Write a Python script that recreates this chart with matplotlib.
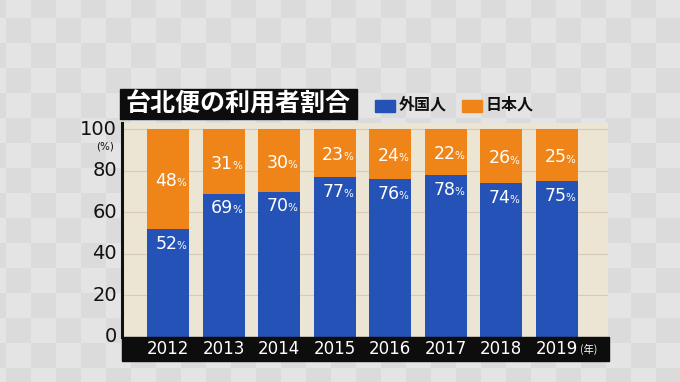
import numpy as np
import matplotlib
matplotlib.use('Agg')
import matplotlib.pyplot as plt
from matplotlib.patches import Rectangle

plt.rcParams['font.family'] = ['Noto Sans CJK JP', 'DejaVu Sans']
NUMFONT = ['DejaVu Sans']

# データ
years = ['2012', '2013', '2014', '2015', '2016', '2017', '2018', '2019']
gaikokujin = [52, 69, 70, 77, 76, 78, 74, 75]
nihonjin = [48, 31, 30, 23, 24, 22, 26, 25]
yticks = [0, 20, 40, 60, 80, 100]

W, H = 680, 382
fig = plt.figure(figsize=(W / 100, H / 100), dpi=100)

# 背景の市松模様
bg = fig.add_axes([0, 0, 1, 1], zorder=-10)
yy, xx = np.mgrid[0:H, 0:W]
checker = (((xx - 6) // 25) + ((yy + 7) // 25)) % 2
img = np.where(checker[..., None] == 0, np.array([0.895, 0.895, 0.895]), np.array([0.862, 0.862, 0.862]))
bg.imshow(img, extent=(0, W, H, 0), aspect='auto', interpolation='nearest')
bg.set_xlim(0, W)
bg.set_ylim(H, 0)
bg.axis('off')

def fx(px):
    return px / W

def fy(py):
    return 1 - py / H

# グラフ本体
ax = fig.add_axes([fx(122), fy(337), fx(608) - fx(122), fy(123) - fy(337)])
ax.set_facecolor('#ece5d3')
x = np.arange(len(years))
blue = '#2452b6'
orange = '#ef8419'
ax.bar(x, gaikokujin, width=0.76, color=blue, zorder=3)
ax.bar(x, nihonjin, width=0.76, bottom=gaikokujin, color=orange, zorder=3)
ax.set_xlim(-0.83, 7.92)
ax.set_ylim(0, 103.1)
for t in yticks[1:]:
    ax.axhline(t, color='#d6ccb6', lw=0.8, zorder=1)
ax.set_xticks([])
ax.set_yticks([])
for s in ['top', 'right', 'bottom']:
    ax.spines[s].set_visible(False)
ax.spines['left'].set_linewidth(2.2)
ax.spines['left'].set_color('#111111')

# 数値ラベル
for i in range(len(years)):
    g = gaikokujin[i]
    n = nihonjin[i]
    for val, yv in [(g, g - 7), (n, g + n / 2 - 1)]:
        ax.text(i + 0.17, yv, str(val), color='white', fontsize=12.5, family=NUMFONT,
                ha='right', va='center', zorder=5)
        ax.text(i + 0.15, yv - 1, '%', color='white', fontsize=7.5, family=NUMFONT,
                ha='left', va='center', zorder=5)

# 縦軸ラベル
for t in yticks:
    ax.text(-0.92, t, str(t), fontsize=14, family=NUMFONT, ha='right', va='center',
            color='#111111', clip_on=False)
ax.text(-0.97, 92, '(%)', fontsize=7.5, family=NUMFONT, ha='right', va='center',
        color='#111111', clip_on=False)

# 年の帯
fig.patches.append(Rectangle((fx(122), fy(361)), fx(609) - fx(122), fy(337) - fy(361),
                             transform=fig.transFigure, color='#0d0d0d', zorder=2))
ylab = fy(349)
for i, yr in enumerate(years):
    xf = fig.transFigure.inverted().transform(ax.transData.transform((i, 0)))[0]
    fig.text(xf, ylab, yr, color='white', fontsize=12, family=NUMFONT,
             ha='center', va='center', zorder=5)
xf = fig.transFigure.inverted().transform(ax.transData.transform((7.42, 0)))[0]
fig.text(xf, ylab, '(年)', color='white', fontsize=7.5, ha='left', va='center', zorder=5)

# タイトル
fig.patches.append(Rectangle((fx(120), fy(119)), fx(357) - fx(120), fy(89) - fy(119),
                             transform=fig.transFigure, color='#0d0d0d', zorder=2))
fig.text(fx(238.5), fy(104), '台北便の利用者割合', color='white', fontsize=18, fontweight='bold',
         ha='center', va='center', zorder=5)

# 凡例
fig.patches.append(Rectangle((fx(375), fy(112)), fx(20), fy(0) - fy(12),
                             transform=fig.transFigure, color=blue, zorder=2))
fig.text(fx(399), fy(105), '外国人', fontsize=11.5, fontweight='bold', color='#111111',
         ha='left', va='center')
fig.patches.append(Rectangle((fx(462), fy(112)), fx(20), fy(0) - fy(12),
                             transform=fig.transFigure, color=orange, zorder=2))
fig.text(fx(486), fy(105), '日本人', fontsize=11.5, fontweight='bold', color='#111111',
         ha='left', va='center')

fig.savefig('out.png', dpi=100)
